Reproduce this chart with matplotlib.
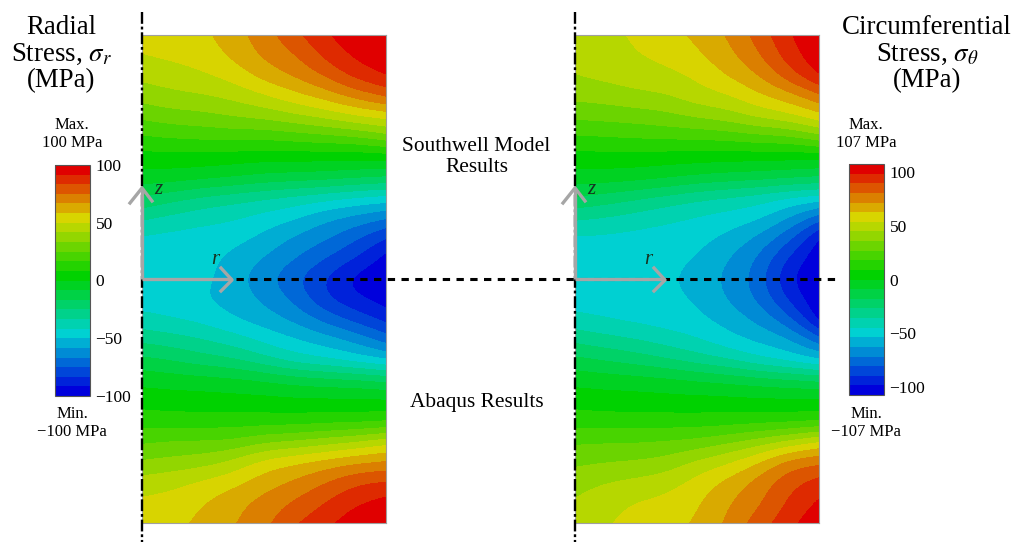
import numpy as np
import matplotlib
matplotlib.use('Agg')
import matplotlib.pyplot as plt
from matplotlib.colors import LinearSegmentedColormap, BoundaryNorm, ListedColormap
from matplotlib.cm import ScalarMappable

W, H = 1013, 542
plt.rcParams['font.family'] = ['Liberation Serif', 'DejaVu Serif']
plt.rcParams['mathtext.fontset'] = 'stix'

# stress, rows top to bottom, columns axis to outer edge
radial_stress = [
    [54, 55, 56, 63, 71, 81, 91, 97, 100],
    [50, 52, 54, 60, 69, 74, 86, 94, 98],
    [44, 46, 49, 53, 62, 68, 76, 87, 93],
    [37, 40, 41, 44, 49, 56, 62, 70, 77],
    [27, 30, 31, 34, 36, 40, 44, 50, 53],
    [16, 18, 19, 20, 19, 21, 23, 25, 31],
    [5, 5, 5, 4, 3, 3, 3, 2, 3],
    [-3, -3, -5, -7, -10, -11, -12, -14, -16],
    [-17, -22, -27, -30, -33, -36, -39, -43, -45],
    [-32, -36, -39, -41, -45, -49, -57, -61, -66],
    [-44, -45, -46, -47, -52, -60, -65, -74, -84],
    [-46, -46, -47, -52, -59, -66, -75, -83, -95],
    [-46, -47, -47, -55, -64, -74, -84, -96, -100],
    [-46, -46, -50, -53, -60, -68, -83, -90, -96],
    [-39, -42, -44, -50, -54, -60, -69, -78, -86],
    [-27, -29, -33, -37, -44, -49, -54, -60, -70],
    [-14, -17, -21, -24, -30, -38, -41, -46, -50],
    [-2, -3, -4, -5, -7, -10, -12, -13, -16],
    [5, 4, 4, 3, 3, 2, 2, 2, 2],
    [13, 12, 12, 12, 12, 12, 13, 13, 14],
    [24, 26, 26, 26, 32, 34, 38, 42, 48],
    [34, 36, 38, 44, 54, 58, 62, 66, 68],
    [46, 48, 52, 56, 63, 68, 75, 83, 85],
    [52, 53, 58, 64, 70, 76, 84, 91, 95],
    [54, 55, 61, 66, 72, 83, 89, 97, 100],
]
hoop_stress = [
    [46, 48, 51, 55, 60, 67, 78, 91, 100],
    [44, 46, 50, 52, 57, 64, 74, 88, 98],
    [42, 44, 46, 48, 51, 59, 66, 80, 93],
    [36, 37, 40, 41, 47, 49, 57, 63, 73],
    [27, 28, 29, 31, 35, 38, 44, 48, 56],
    [16, 17, 18, 19, 19, 20, 23, 24, 31],
    [5, 5, 5, 4, 4, 3, 3, 2, 2],
    [-3, -3, -4, -6, -9, -11, -12, -14, -16],
    [-17, -20, -24, -28, -32, -35, -38, -43, -45],
    [-32, -34, -37, -40, -43, -45, -48, -58, -71],
    [-44, -44, -45, -46, -47, -52, -60, -72, -93],
    [-46, -46, -47, -47, -50, -58, -67, -85, -98],
    [-46, -47, -47, -48, -54, -60, -70, -92, -100],
    [-46, -46, -47, -48, -50, -59, -67, -85, -99],
    [-39, -42, -44, -46, -48, -53, -60, -71, -95],
    [-27, -30, -33, -37, -41, -47, -52, -56, -70],
    [-14, -17, -20, -24, -29, -33, -40, -45, -50],
    [-2, -3, -4, -5, -7, -9, -11, -13, -15],
    [5, 4, 4, 3, 3, 3, 2, 2, 2],
    [13, 12, 12, 12, 12, 12, 13, 13, 14],
    [24, 25, 25, 26, 27, 32, 37, 44, 52],
    [32, 33, 34, 36, 44, 49, 58, 72, 74],
    [38, 42, 44, 47, 53, 61, 70, 81, 87],
    [43, 47, 51, 52, 57, 66, 73, 85, 93],
    [46, 49, 53, 55, 59, 68, 79, 89, 98],
]
radial_ticks = [100, 50, 0, -50, -100]
hoop_ticks = [100, 50, 0, -50, -100]

# anchors of the colour scale
scale_values = [-96, -46, 4, 54, 96]
scale_colors = ['#0000dc', '#00d2d2', '#00d200', '#d8d800', '#e00000']
n_bands = 24


def band_map():
    span = scale_values[-1] - scale_values[0]
    pos = [(v - scale_values[0]) / span for v in scale_values]
    smooth = LinearSegmentedColormap.from_list('rainbow', list(zip(pos, scale_colors)))
    return ListedColormap([smooth(i / (n_bands - 1)) for i in range(n_bands)])


def px_axes(x0, y0, x1, y1):
    return fig.add_axes([x0 / W, 1 - y1 / H, (x1 - x0) / W, (y1 - y0) / H])


def field(x0, y0, x1, y1, values):
    ax = px_axes(x0, y0, x1, y1)
    vals = np.array(values, dtype=float)
    norm = BoundaryNorm(np.linspace(-100, 100, n_bands + 1), n_bands)
    dx = 1 / (vals.shape[1] - 1)
    dy = 1 / (vals.shape[0] - 1)
    # the resampler fades toward the image border, so give it room past the frame
    pad = 3
    padded = np.pad(vals, pad, mode='reflect', reflect_type='odd')
    ax.imshow(padded, cmap=band_map(), norm=norm, aspect='auto',
              interpolation='bicubic', interpolation_stage='data',
              extent=[-(pad + 0.5) * dx, 1 + (pad + 0.5) * dx,
                      1 + (pad + 0.5) * dy, -(pad + 0.5) * dy])
    ax.set_xlim(0, 1)
    ax.set_ylim(1, 0)
    ax.set_xticks([])
    ax.set_yticks([])
    for s in ax.spines.values():
        s.set_color('#a0a0a0')
        s.set_linewidth(0.8)


def colorbar(x0, y0, x1, y1, vmax, ticks):
    cax = px_axes(x0, y0, x1, y1)
    norm = BoundaryNorm(np.linspace(-vmax, vmax, n_bands + 1), n_bands)
    cb = fig.colorbar(ScalarMappable(norm=norm, cmap=band_map()), cax=cax,
                      spacing='proportional', drawedges=False)
    cb.set_ticks(ticks)
    cb.set_ticklabels([str(t).replace('-', '\u2212') for t in ticks])
    cb.ax.tick_params(length=0, pad=4, labelsize=12.5)
    cb.minorticks_off()
    cb.outline.set_edgecolor('#555555')
    cb.outline.set_linewidth(0.8)


def axes_marks(x):
    gray = '#a6a6a6'
    over.plot([x, x], [12, 542], color='black', lw=1.7, ls=(0, (5, 1.2, 1.2, 1.2)))
    over.plot([x, x], [279, 188], color=gray, lw=2.4, solid_capstyle='butt')
    over.plot([x - 12, x, x + 10], [203, 188, 201], color=gray, lw=2.4)
    over.plot([x, x + 90], [279, 279], color=gray, lw=2.4, solid_capstyle='butt')
    over.plot([x + 79, x + 90, x + 79], [268, 280, 291], color=gray, lw=2.4)
    over.text(x + 16, 190, 'z', fontsize=15, style='italic', color='#16321f', ha='center', va='center')
    over.text(x + 73, 260, 'r', fontsize=15, style='italic', color='#16321f', ha='center', va='center')


fig = plt.figure(figsize=(W / 100, H / 100), dpi=100)

field(142, 35, 386, 523, radial_stress)
field(575, 35, 819, 523, hoop_stress)
colorbar(55, 165, 90, 396, 100, radial_ticks)
colorbar(849, 164, 884, 395, 107, hoop_ticks)

over = fig.add_axes([0, 0, 1, 1])
over.set_xlim(0, W)
over.set_ylim(H, 0)
over.axis('off')
over.patch.set_alpha(0)

over.plot([236, 838], [279, 279], color='black', lw=2.2, ls=(0, (2.4, 2.1)))
axes_marks(142)
axes_marks(575)

over.text(61.5, 54, 'Radial\nStress, $\\sigma_r$\n(MPa)', fontsize=19.4, ha='center', va='center',
          linespacing=1.08)
over.text(927, 54, 'Circumferential\nStress, $\\sigma_\\theta$\n(MPa)', fontsize=19.4, ha='center',
          va='center', linespacing=1.08)
over.text(72, 134, 'Max.\n100 MPa', fontsize=12, ha='center', va='center', linespacing=1.1)
over.text(72, 423, 'Min.\n\u2212100 MPa', fontsize=12, ha='center', va='center', linespacing=1.1)
over.text(866, 134, 'Max.\n107 MPa', fontsize=12, ha='center', va='center', linespacing=1.1)
over.text(866, 423, 'Min.\n\u2212107 MPa', fontsize=12, ha='center', va='center', linespacing=1.1)
over.text(476.5, 157, 'Southwell Model\nResults', fontsize=15.4, ha='center', va='center', linespacing=1.1)
over.text(477, 402, 'Abaqus Results', fontsize=15.4, ha='center', va='center')

fig.savefig('out.png', dpi=100)
